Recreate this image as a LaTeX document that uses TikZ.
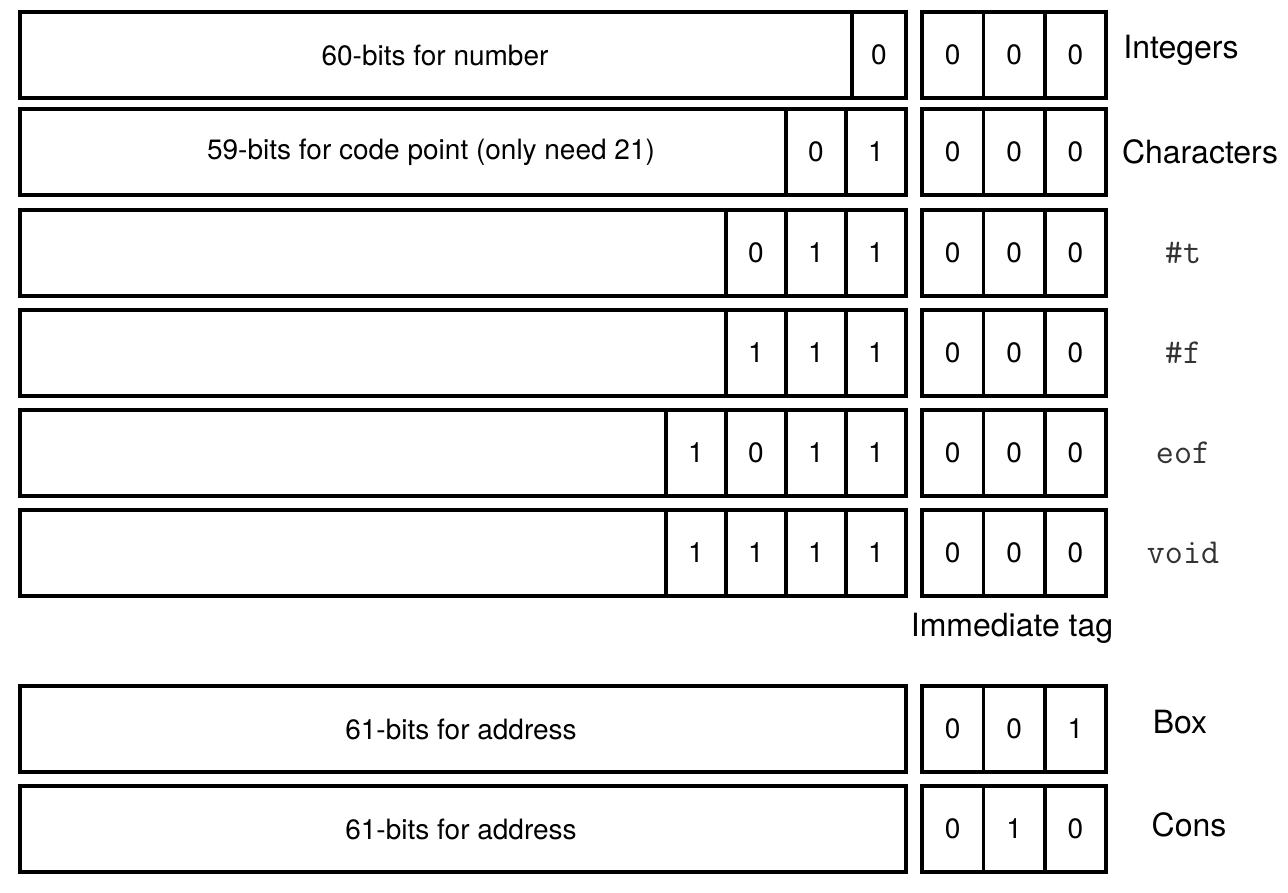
\documentclass[tikz,border=0pt]{standalone}
\usepackage{fontspec}
\setmainfont{TeX Gyre Heros}
\usetikzlibrary{positioning}

\begin{document}
\begin{tikzpicture}[x=1pt, y=-1pt,
                        field/.style={draw, line width=3.6pt, minimum height=86pt, inner sep=0pt, outer sep=0pt, anchor=west},
                        bit/.style={draw, line width=3.6pt, minimum width=60pt, minimum height=86pt, inner sep=0pt, outer sep=0pt, font=\fontsize{28}{30}\selectfont},
                        tag/.style={bit, minimum width=61.33pt},
                        inside/.style={font=\fontsize{28}{30}\selectfont},
                        kind/.style={font=\fontsize{32}{34}\selectfont},
                        code/.style={font=\ttfamily\fontsize{35}{37}\selectfont, text=black!80}]

      \useasboundingbox (0,0) rectangle (1288,892);

      % Integers
      \node[field, minimum width=832pt] (f1) at (20,55) {};
      \node[bit, minimum width=54pt] (c1a) [right=0pt of f1] {0};
      \node[tag] (t1a) at (952.7,55) {0};
      \node[tag] (t1b) [right=0pt of t1a] {0};
      \node[tag] (t1c) [right=0pt of t1b] {0};
      \node[inside] (n1) at (435,55) {60-bits for number};
      \node[kind] (k1) at (1181,50) {Integers};

      % Characters
      \node[field, minimum width=766pt] (f2) at (20,152) {};
      \node[bit] (c2a) [right=0pt of f2] {0};
      \node[bit] (c2b) [right=0pt of c2a] {1};
      \node[tag] (t2a) at (952.7,152) {0};
      \node[tag] (t2b) [right=0pt of t2a] {0};
      \node[tag] (t2c) [right=0pt of t2b] {0};
      \node[inside] (n2) at (431,152) {59-bits for code point (only need 21)};
      \node[kind] (k2) at (1200,152) {Characters};

      % #t
      \node[field, minimum width=706pt] (f3) at (20,253) {};
      \node[bit] (c3a) [right=0pt of f3] {0};
      \node[bit] (c3b) [right=0pt of c3a] {1};
      \node[bit] (c3c) [right=0pt of c3b] {1};
      \node[tag] (t3a) at (952.7,253) {0};
      \node[tag] (t3b) [right=0pt of t3a] {0};
      \node[tag] (t3c) [right=0pt of t3b] {0};
      \node[code] (k3) at (1183,253) {\#t};

      % #f
      \node[field, minimum width=706pt] (f4) at (20,353) {};
      \node[bit] (c4a) [right=0pt of f4] {1};
      \node[bit] (c4b) [right=0pt of c4a] {1};
      \node[bit] (c4c) [right=0pt of c4b] {1};
      \node[tag] (t4a) at (952.7,353) {0};
      \node[tag] (t4b) [right=0pt of t4a] {0};
      \node[tag] (t4c) [right=0pt of t4b] {0};
      \node[code] (k4) at (1183,353) {\#f};

      % eof
      \node[field, minimum width=646pt] (f5) at (20,453) {};
      \node[bit] (c5a) [right=0pt of f5] {1};
      \node[bit] (c5b) [right=0pt of c5a] {0};
      \node[bit] (c5c) [right=0pt of c5b] {1};
      \node[bit] (c5d) [right=0pt of c5c] {1};
      \node[tag] (t5a) at (952.7,453) {0};
      \node[tag] (t5b) [right=0pt of t5a] {0};
      \node[tag] (t5c) [right=0pt of t5b] {0};
      \node[code] (k5) at (1183,453) {eof};

      % void
      \node[field, minimum width=646pt] (f6) at (20,553) {};
      \node[bit] (c6a) [right=0pt of f6] {1};
      \node[bit] (c6b) [right=0pt of c6a] {1};
      \node[bit] (c6c) [right=0pt of c6b] {1};
      \node[bit] (c6d) [right=0pt of c6c] {1};
      \node[tag] (t6a) at (952.7,553) {0};
      \node[tag] (t6b) [right=0pt of t6a] {0};
      \node[tag] (t6c) [right=0pt of t6b] {0};
      \node[code] (k6) at (1183,553) {void};

      \node[kind] (imm) at (1012,628) {Immediate tag};

      % Box
      \node[field, minimum width=886pt] (f7) at (20,729) {};
      \node[tag] (t7a) at (952.7,729) {0};
      \node[tag] (t7b) [right=0pt of t7a] {0};
      \node[tag] (t7c) [right=0pt of t7b] {1};
      \node[inside] (n7) at (461,729) {61-bits for address};
      \node[kind] (k7) at (1180,722) {Box};

      % Cons
      \node[field, minimum width=886pt] (f8) at (20,829) {};
      \node[tag] (t8a) at (952.7,829) {0};
      \node[tag] (t8b) [right=0pt of t8a] {1};
      \node[tag] (t8c) [right=0pt of t8b] {0};
      \node[inside] (n8) at (461,829) {61-bits for address};
      \node[kind] (k8) at (1189,825) {Cons};

    \end{tikzpicture}
\end{document}
